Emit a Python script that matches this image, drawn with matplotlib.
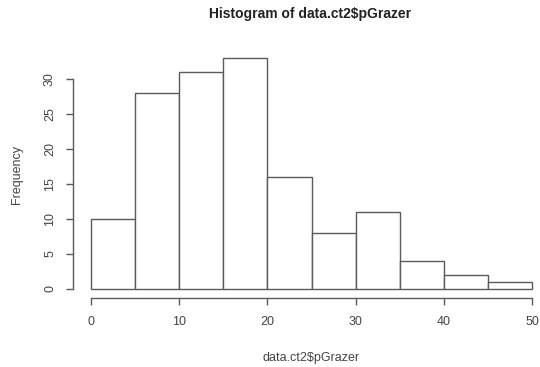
import matplotlib
matplotlib.use("Agg")
import matplotlib.pyplot as plt
import numpy as np

bin_edges = [0, 5, 10, 15, 20, 25, 30, 35, 40, 45, 50]
counts = [10, 28, 31, 33, 16, 8, 11, 4, 2, 1]
x_ticks = [0, 10, 20, 30, 40, 50]
y_ticks = [0, 5, 10, 15, 20, 25, 30]
title = "Histogram of data.ct2$pGrazer"
xlabel = "data.ct2$pGrazer"
ylabel = "Frequency"

plt.rcParams['font.family'] = ['Liberation Sans', 'DejaVu Sans']
W, H = 540, 367
fig = plt.figure(figsize=(W / 100, H / 100), dpi=100)
fig.patch.set_facecolor('white')

left, right, top, bottom = 73.4, 549.7, 48.7, 298.2
ax = fig.add_axes([left / W, (H - bottom) / H, (right - left) / W, (bottom - top) / H])

col = '#5a5a5a'
tcol = '#444444'
edges = np.array(bin_edges)
ax.bar(edges[:-1], counts, width=np.diff(edges), align='edge',
       facecolor='white', edgecolor=col, linewidth=1.0)

ax.set_xlim(-2, 52)
ax.set_ylim(-1.32, 34.32)
for s in ['top', 'right']:
    ax.spines[s].set_visible(False)
ax.spines['left'].set_bounds(0, 30)
ax.spines['bottom'].set_bounds(0, 50)
for s in ['left', 'bottom']:
    ax.spines[s].set_color(col)
    ax.spines[s].set_linewidth(1.0)
ax.set_xticks(x_ticks)
ax.set_yticks(y_ticks)
ax.set_yticklabels([str(v) for v in y_ticks], rotation=90, va='center')
ax.tick_params(axis='both', direction='out', length=5, width=1.0, color=col,
               labelcolor=tcol, labelsize=9)
ax.tick_params(axis='x', pad=7.5)
ax.tick_params(axis='y', pad=7.5)

fig.text(310 / W, 1 - 14 / H, title, ha='center', va='center',
         fontsize=10, fontweight='bold', color='#222222')
fig.text(311 / W, 1 - 358 / H, xlabel, ha='center', va='center',
         fontsize=9, color=tcol)
fig.text(17 / W, 1 - 174 / H, ylabel, ha='center', va='center',
         fontsize=9, color=tcol, rotation=90)

fig.savefig('out.png', dpi=100, facecolor='white')
